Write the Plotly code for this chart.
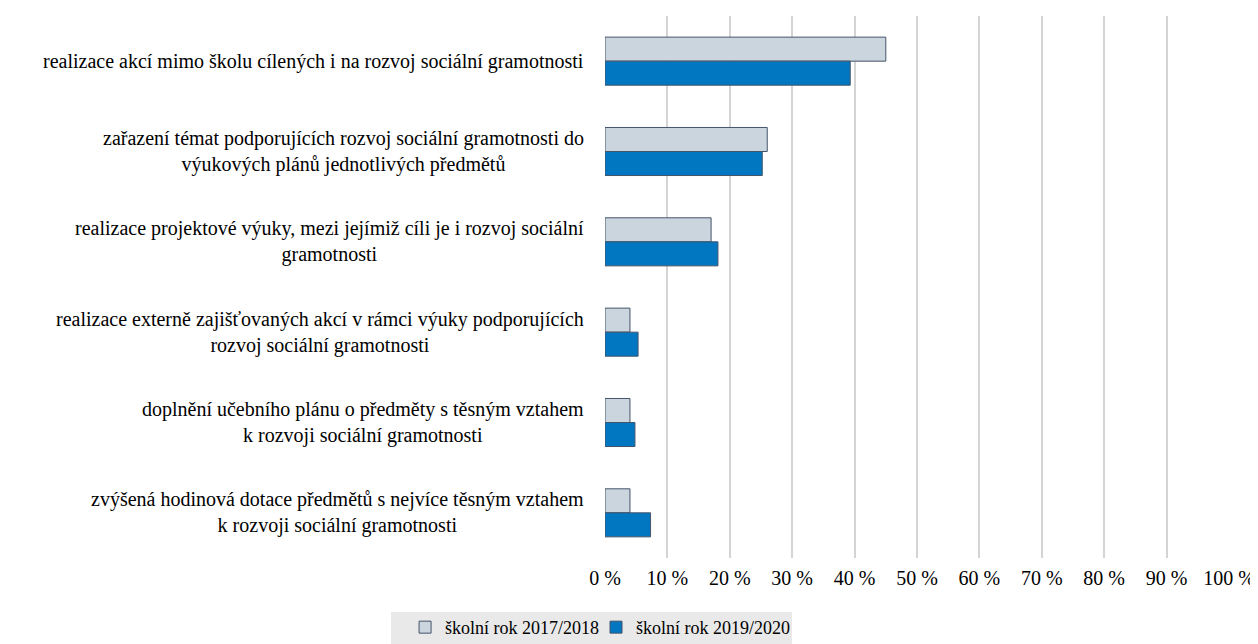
import plotly.graph_objects as go

categories = [
    "realizace akcí mimo školu cílených i na rozvoj sociální gramotnosti",
    "zařazení témat podporujících rozvoj sociální gramotnosti do<br>výukových plánů jednotlivých předmětů",
    "realizace projektové výuky, mezi jejímiž cíli je i rozvoj sociální<br>gramotnosti",
    "realizace externě zajišťovaných akcí v rámci výuky podporujících<br>rozvoj sociální gramotnosti",
    "doplnění učebního plánu o předměty s těsným vztahem<br>k rozvoji sociální gramotnosti",
    "zvýšená hodinová dotace předmětů s nejvíce těsným vztahem<br>k rozvoji sociální gramotnosti",
]
series_names = ["školní rok 2017/2018", "školní rok 2019/2020"]
values_2017 = [45.0, 26.0, 17.0, 4.0, 4.0, 4.0]
values_2019 = [39.3, 25.2, 18.1, 5.3, 4.8, 7.3]
tick_vals = [0, 10, 20, 30, 40, 50, 60, 70, 80, 90, 100]
tick_text = [f"{v} %" for v in tick_vals]

FONT = "Liberation Serif"
ypos = list(range(len(categories)))

fig = go.Figure()
fig.add_trace(go.Bar(
    y=ypos, x=values_2017, orientation="h", name=series_names[0],
    marker=dict(color="#cbd5de", line=dict(color="#44546a", width=1)),
    legend="legend",
))
fig.add_trace(go.Bar(
    y=ypos, x=values_2019, orientation="h", name=series_names[1],
    marker=dict(color="#0077c0", line=dict(color="#44546a", width=1)),
    legend="legend2",
))

for i, cat in enumerate(categories):
    fig.add_annotation(
        x=-0.03, xref="paper", y=i, yref="y", text=cat,
        xanchor="right", yanchor="middle", align="center", showarrow=False,
        font=dict(family=FONT, size=20, color="#000000"),
    )

# legend background band
fig.add_shape(
    type="rect", xref="paper", yref="paper",
    x0=-0.343, x1=0.2997, y0=-0.1587, y1=-0.0996,
    fillcolor="#e9e9e9", line=dict(width=0), layer="below",
)

legend_common = dict(
    orientation="h", xanchor="left", y=-0.094, yanchor="top",
    bgcolor="rgba(0,0,0,0)", font=dict(family=FONT, size=18, color="#000000"),
    itemwidth=30,
)

fig.update_layout(
    width=1250, height=636,
    margin=dict(l=597, r=29, t=8, b=86, autoexpand=False),
    paper_bgcolor="white", plot_bgcolor="white",
    barmode="group", bargap=0.468, bargroupgap=0,
    font=dict(family=FONT, size=18, color="#000000"),
    showlegend=True,
    legend=dict(x=-0.3204, **legend_common),
    legend2=dict(x=-0.0144, **legend_common),
    xaxis=dict(
        range=[0, 100], tickvals=tick_vals, ticktext=tick_text,
        showgrid=True, gridcolor="#d4d4d4", gridwidth=1.5,
        zeroline=False, showline=False, ticks="",
        tickfont=dict(family=FONT, size=20, color="#000000"),
        ticklabelstandoff=6,
    ),
    yaxis=dict(
        range=[5.5, -0.5], showticklabels=False, showgrid=False,
        zeroline=False, showline=False, ticks="",
    ),
)

fig.write_html("out.html")
